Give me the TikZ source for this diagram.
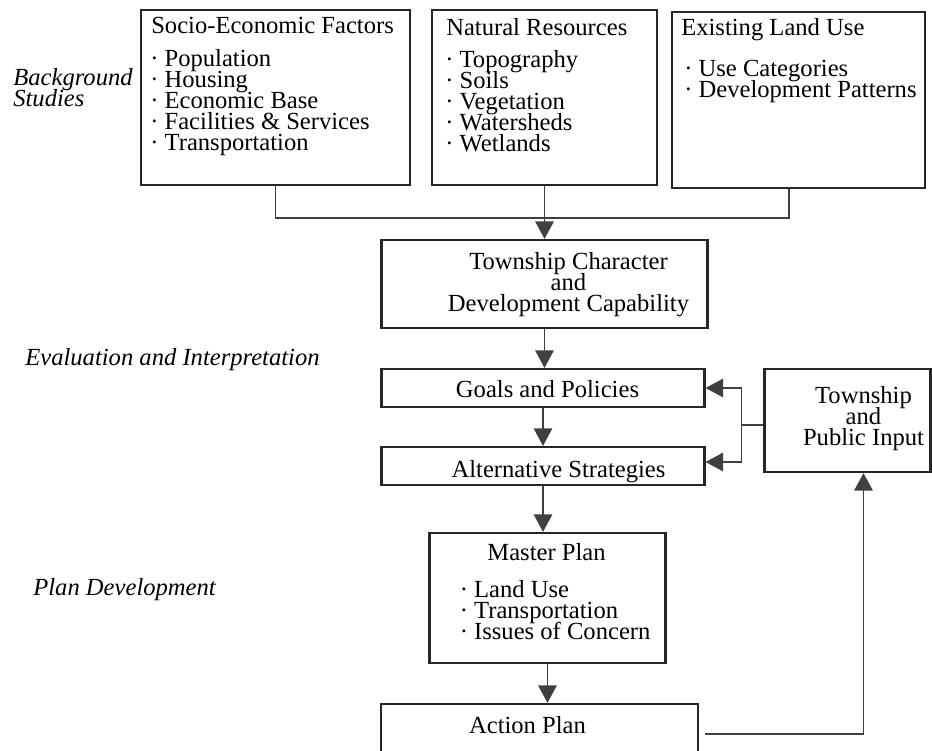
\documentclass[tikz,border=0pt]{standalone}
\usepackage{fontspec}
\setmainfont{Liberation Serif}
\usetikzlibrary{arrows.meta}
\lineskiplimit=-100pt

\begin{document}
\begin{tikzpicture}[>={Triangle[length=10pt,width=10.5pt]},
        font=\fontsize{14}{11.95}\selectfont,
        box/.style={draw=black!85, line width=1.2pt, inner sep=0pt},
        heading/.style={inner sep=0pt, anchor=base west},
        items/.style={inner sep=0pt, anchor=north west, align=left},
        caption/.style={inner sep=0pt, align=center},
        note/.style={inner sep=0pt, align=left, font=\fontsize{14}{11.95}\selectfont\itshape},
        link/.style={draw=black!75, line width=0.9pt},
        flow/.style={link, ->}]
        \useasboundingbox (0,0) rectangle (18.64,-15);

        \node[box, minimum width=4.5cm, minimum height=3.5cm]   (natural) at (10.89,-1.95) {};
        \node[box, minimum width=5.38cm, minimum height=3.5cm, node distance=5.38cm]   (socio) [left of=natural] {};
        \node[box, minimum width=5.06cm, minimum height=3.52cm, node distance=5.08cm, yshift=-0.05cm]   (landuse) [right of=natural] {};

        \node[box, minimum width=6.52cm, minimum height=1.76cm, node distance=3.73cm]   (town) [below of=natural] {};
        \node[box, minimum width=6.46cm, minimum height=0.76cm, node distance=2.08cm, xshift=-0.03cm]   (goals) [below of=town] {};
        \node[box, minimum width=6.46cm, minimum height=0.76cm, node distance=1.56cm]   (alt) [below of=goals] {};
        \node[box, minimum width=4.72cm, minimum height=2.6cm, node distance=2.64cm, xshift=0.09cm]   (master) [below of=alt] {};
        \node[box, minimum width=6.34cm, minimum height=1.04cm, node distance=2.64cm, xshift=-0.16cm]   (action) [below of=master] {};

        \node[box, minimum width=3.32cm, minimum height=2.06cm, node distance=6.09cm, yshift=-0.65cm]   (public) [right of=goals] {};

        \node[heading] (sociohead) at ([xshift=0.22cm,yshift=-0.5cm]socio.north west) {Socio-Economic Factors};
        \node[items] (sociolist) at ([xshift=0.2cm,yshift=-0.8cm]socio.north west) {· Population\\· Housing\\· Economic Base\\· Facilities \& Services\\· Transportation};

        \node[heading] (naturalhead) at ([xshift=0.3cm,yshift=-0.54cm]natural.north west) {Natural Resources};
        \node[items] (naturallist) at ([xshift=0.28cm,yshift=-0.82cm]natural.north west) {· Topography\\· Soils\\· Vegetation\\· Watersheds\\· Wetlands};

        \node[heading] (landusehead) at ([xshift=0.2cm,yshift=-0.5cm]landuse.north west) {Existing Land Use};
        \node[items] (landuselist) at ([xshift=0.26cm,yshift=-0.98cm]landuse.north west) {· Use Categories\\· Development Patterns};

        \node[caption] (towntext) at ([xshift=0.48cm,yshift=-0.02cm]town.center) {Township Character\\and\\Development Capability};
        \node[caption] (goalstext) at ([xshift=0.09cm,yshift=-0.02cm]goals.center) {Goals and Policies};
        \node[caption] (alttext) at ([xshift=0.31cm,yshift=-0.12cm]alt.center) {Alternative Strategies};

        \node[heading, anchor=base] (masterhead) at ([xshift=-0.02cm,yshift=-0.58cm]master.north) {Master Plan};
        \node[items] (masterlist) at ([xshift=0.62cm,yshift=-0.96cm]master.north west) {· Land Use\\· Transportation\\· Issues of Concern};

        \node[caption] (actiontext) at ([xshift=-0.24cm,yshift=0.1cm]action.center) {Action Plan};
        \node[caption] (publictext) at ([xshift=0.32cm,yshift=0.03cm]public.center) {Township\\and\\Public Input};

        \node[note, anchor=north west] (background) at (0.26,-1.36) {Background\\Studies};
        \node[note, anchor=base west] (evaluation) at (0.5,-7.3) {Evaluation and Interpretation};
        \node[note, anchor=base west] (plandev) at (0.66,-11.9) {Plan Development};

        \coordinate (merge) at ([yshift=-0.64cm]natural.south);
        \coordinate (split) at ([xshift=-0.44cm,yshift=-0.09cm]public.west);

        \draw[link] (socio.south) |- (merge) -| ([xshift=-0.19cm]landuse.south);
        \draw[flow] (natural.south) -- (natural.south |- town.north);
        \draw[flow] (town.south) -- (town.south |- goals.north);
        \draw[flow] (goals.south) -- (goals.south |- alt.north);
        \draw[flow] (alt.south) -- (alt.south |- master.north);
        \draw[flow] (master.south) -- (master.south |- action.north);

        \draw[link] ([yshift=-0.09cm]public.west) -- (split);
        \draw[flow] (split) |- (goals.east);
        \draw[flow] (split) |- ([yshift=0.08cm]alt.east);
        \draw[flow] ([xshift=0.12cm,yshift=-0.08cm]action.east) -| ([xshift=0.32cm]public.south);
\end{tikzpicture}
\end{document}
